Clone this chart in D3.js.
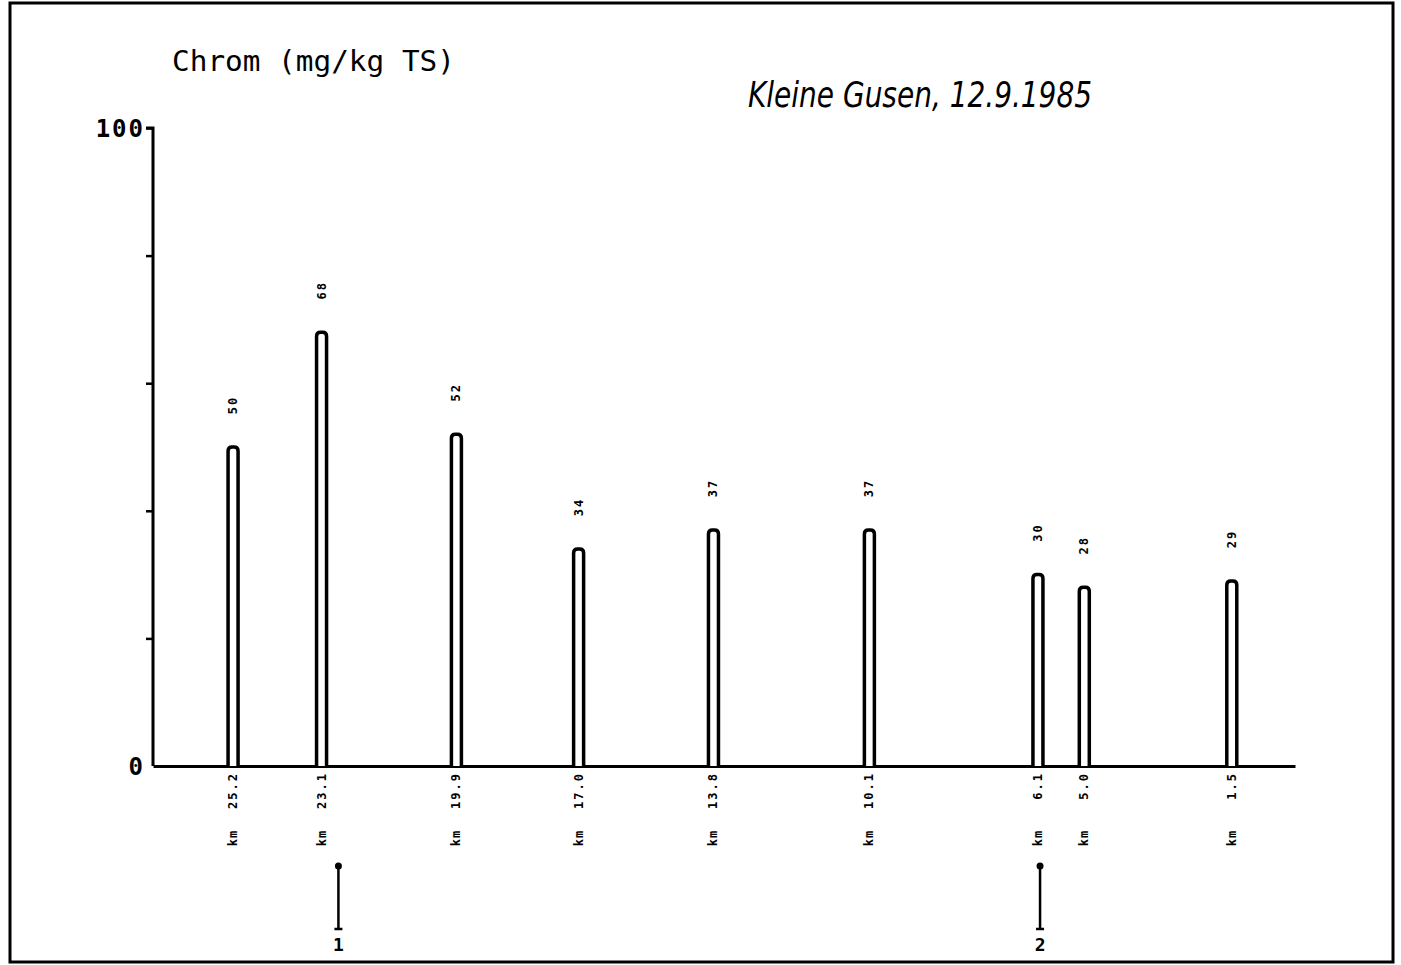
<!DOCTYPE html>
<html>
<head>
<meta charset="utf-8">
<script src="https://cdn.jsdelivr.net/npm/d3@7/dist/d3.min.js"></script>
<style>
html,body{margin:0;padding:0;background:#fff;}
svg{display:block;}
</style>
</head>
<body>
<svg id="chart" width="1401" height="965"></svg>
<script>
// ---- data ----
const kmPositions = [25.2, 23.1, 19.9, 17.0, 13.8, 10.1, 6.1, 5.0, 1.5];
const kmLabels = ["25.2", "23.1", "19.9", "17.0", "13.8", "10.1", "6.1", "5.0", "1.5"];
const chromValues = [50, 68, 52, 34, 37, 37, 30, 28, 29];
const yTickValues = [0, 20, 40, 60, 80, 100];
const yTickLabels = ["0", "", "", "", "", "100"];
const markerKm = [22.7, 6.05];
const markerLabels = ["1", "2"];
const yTitle = "Chrom (mg/kg TS)";
const chartTitle = "Kleine Gusen, 12.9.1985";

// ---- layout ----
const svg = d3.select("#chart");
const x = d3.scaleLinear().domain([27.1, 0]).range([153, 1295]);
const y = d3.scaleLinear().domain([0, 100]).range([766, 128]);
const mono = "DejaVu Sans Mono, monospace";

// frame
svg.append("rect").attr("x", 10).attr("y", 3).attr("width", 1383).attr("height", 959)
  .attr("fill", "none").attr("stroke", "#000").attr("stroke-width", 3);

// y axis
const yAxis = d3.axisLeft(y).tickValues(yTickValues).tickSize(7).tickFormat(() => "");
const gy = svg.append("g").attr("transform", "translate(153,0)").call(yAxis);
gy.select(".domain").attr("stroke-width", 3).attr("d", "M-7,128H0V766");
gy.selectAll(".tick line").attr("stroke-width", 2.5);
gy.selectAll(".tick").filter(d => d === 0).select("line").remove();

// y labels
svg.selectAll(".ylab").data(yTickValues.map((v, i) => ({v, t: yTickLabels[i]})).filter(d => d.t))
  .enter().append("text")
  .attr("x", 145).attr("y", d => y(d.v) + 9)
  .attr("text-anchor", "end")
  .attr("font-family", mono).attr("font-weight", "bold")
  .attr("font-size", 24).attr("letter-spacing", 2)
  .text(d => d.t);

// x axis baseline
const xAxis = d3.axisBottom(x).tickValues([]).tickSize(0);
const gx = svg.append("g").attr("transform", "translate(0,766)").call(xAxis);
gx.select(".domain").attr("stroke-width", 3);

// bars
const bw = 10;
svg.selectAll(".bar").data(chromValues).enter().append("path")
  .attr("class", "bar")
  .attr("d", (d, i) => {
    const cx = x(kmPositions[i]);
    const top = y(d), bot = y(0), r = 4;
    return `M${cx - bw/2},${bot}V${top + r}Q${cx - bw/2},${top} ${cx - bw/2 + r},${top}H${cx + bw/2 - r}Q${cx + bw/2},${top} ${cx + bw/2},${top + r}V${bot}`;
  })
  .attr("fill", "#fff").attr("stroke", "#000").attr("stroke-width", 3.5);

// value labels (rotated)
svg.selectAll(".vlab").data(chromValues).enter().append("text")
  .attr("transform", (d, i) => `translate(${x(kmPositions[i]) + 4},${y(d) - 42}) rotate(-90)`)
  .attr("text-anchor", "middle")
  .attr("font-family", mono).attr("font-weight", "bold")
  .attr("font-size", 12).attr("letter-spacing", 2)
  .text(d => d);

// km labels
svg.selectAll(".klab").data(kmLabels).enter().append("text")
  .attr("transform", (d, i) => `translate(${x(kmPositions[i]) + 4},772) rotate(-90)`)
  .attr("text-anchor", "end")
  .attr("font-family", mono).attr("font-weight", "bold")
  .attr("font-size", 12).attr("letter-spacing", 2)
  .text(d => d);

svg.selectAll(".kmu").data(kmPositions).enter().append("text")
  .attr("transform", d => `translate(${x(d) + 4},838) rotate(-90)`)
  .attr("text-anchor", "middle")
  .attr("font-family", mono).attr("font-weight", "bold")
  .attr("font-size", 12).attr("letter-spacing", 1)
  .text("km");

// markers
const mk = svg.selectAll(".mk").data(markerKm).enter().append("g")
  .attr("transform", d => `translate(${x(d)},0)`);
mk.append("line").attr("x1", 0).attr("x2", 0).attr("y1", 866).attr("y2", 929)
  .attr("stroke", "#000").attr("stroke-width", 2.5);
mk.append("circle").attr("cx", 0).attr("cy", 866).attr("r", 3.5).attr("fill", "#000");
mk.append("line").attr("x1", -4).attr("x2", 4).attr("y1", 929).attr("y2", 929)
  .attr("stroke", "#000").attr("stroke-width", 2.5);
mk.append("text").attr("x", 0).attr("y", 951).attr("text-anchor", "middle")
  .attr("font-family", mono).attr("font-weight", "bold")
  .attr("font-size", 18)
  .text((d, i) => markerLabels[i]);

// y title
svg.append("text").attr("x", 172).attr("y", 71)
  .attr("font-family", mono)
  .attr("font-size", 28).attr("textLength", 283).attr("lengthAdjust", "spacingAndGlyphs")
  .text(yTitle);

// chart title
svg.append("text").attr("x", 748).attr("y", 107)
  .attr("font-family", "Liberation Sans Narrow, DejaVu Sans Condensed, sans-serif")
  .attr("font-style", "italic")
  .attr("font-size", 35).attr("textLength", 344).attr("lengthAdjust", "spacingAndGlyphs")
  .text(chartTitle);
</script>
</body>
</html>
